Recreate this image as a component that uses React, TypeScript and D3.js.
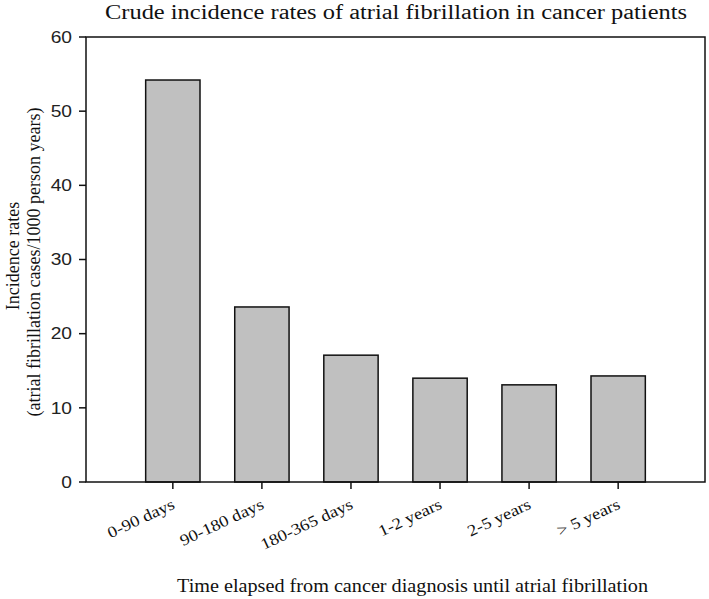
import React from "react";
import * as d3 from "d3";

const categories = ["0-90 days", "90-180 days", "180-365 days", "1-2  years", "2-5 years", "> 5 years"];
const rates = [54.2, 23.6, 17.1, 14.0, 13.1, 14.3];
const yTicks = [0, 10, 20, 30, 40, 50, 60];

const W = 709, H = 599;
const left = 86, right = 705, top = 37, bottom = 482;

export default function App() {
  const x = d3.scaleBand<string>().domain(categories).range([left, right]).paddingInner(0.39).paddingOuter(0.67);
  const y = d3.scaleLinear().domain([0, 60]).range([bottom, top]);
  const serif = "'Liberation Serif', 'Times New Roman', serif";
  const sans = "'Liberation Sans', Arial, sans-serif";
  return (
    <svg width={W} height={H} style={{ position: "absolute", left: 0, top: 0, background: "#fff" }}>
      <text x={105} y={19} fontFamily={serif} fontSize={20} textLength={582} lengthAdjust="spacingAndGlyphs" fill="#111">Crude incidence rates of atrial fibrillation in cancer patients</text>
      {categories.map((c, i) => (
        <rect key={c} x={x(c)!} y={y(rates[i])} width={x.bandwidth()} height={bottom - y(rates[i])}
          fill="#c0c0c0" stroke="#111" strokeWidth={1.5} />
      ))}
      <rect x={left} y={top} width={right - left} height={bottom - top} fill="none" stroke="#111" strokeWidth={1.5} />
      {yTicks.map(t => (
        <g key={t}>
          <line x1={left - 7} x2={left} y1={y(t)} y2={y(t)} stroke="#111" strokeWidth={1.5} />
          <text transform={`translate(${left - 14},${y(t)}) scale(1.2,1)`} dy="0.36em" textAnchor="end" fontFamily={sans} fontSize={16} fill="#222">{t}</text>
        </g>
      ))}
      {categories.map(c => {
        const cx = x(c)! + x.bandwidth() / 2;
        return (
          <g key={c}>
            <line x1={cx} x2={cx} y1={bottom} y2={bottom + 7} stroke="#111" strokeWidth={1.5} />
            <text transform={`translate(${cx + 3},${bottom + 26}) rotate(-25) scale(1.15,1)`} textAnchor="end" fontFamily={serif} fontSize={16} fill="#111">{c}</text>
          </g>
        );
      })}
      <text transform={`translate(19,256) rotate(-90)`} textAnchor="middle" fontFamily={serif} fontSize={18} fill="#111">Incidence rates</text>
      <text transform={`translate(40,262) rotate(-90)`} textAnchor="middle" fontFamily={serif} fontSize={18} fill="#111">(atrial fibrillation cases/1000 person years)</text>
      <text x={177} y={592} fontFamily={serif} fontSize={19} textLength={471} lengthAdjust="spacingAndGlyphs" fill="#111">Time elapsed from cancer diagnosis until atrial fibrillation</text>
    </svg>
  );
}
